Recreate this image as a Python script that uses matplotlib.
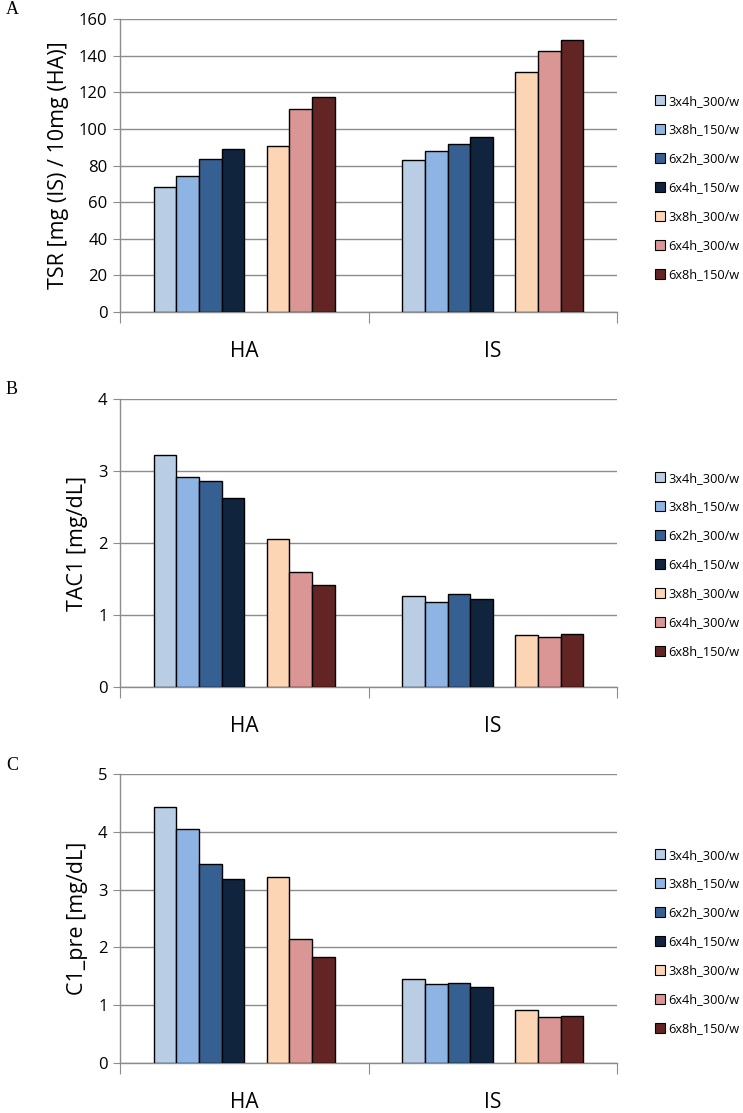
"""Three grouped bar panels (A, B, C) for HA and IS."""

import matplotlib.pyplot as plt
from matplotlib.patches import Patch

categories = ["HA", "IS"]
series = ["3x4h_300/w", "3x8h_150/w", "6x2h_300/w", "6x4h_150/w",
          "3x8h_300/w", "6x4h_300/w", "6x8h_150/w"]
colors = ["#B9CDE5", "#8EB4E3", "#376092", "#10243E",
          "#FCD5B5", "#D99694", "#632523"]

# values per series: [HA, IS]
tsr = [[68, 83], [74.5, 88], [83.7, 91.7], [88.8, 95.3],
       [90.4, 131.2], [111, 142.5], [117.6, 148.3]]
tac1 = [[3.22, 1.27], [2.91, 1.18], [2.86, 1.29], [2.62, 1.22],
        [2.05, 0.72], [1.60, 0.70], [1.41, 0.74]]
c1_pre = [[4.43, 1.45], [4.05, 1.36], [3.44, 1.39], [3.19, 1.32],
          [3.21, 0.91], [2.14, 0.79], [1.84, 0.81]]

panels = [
    ("A", tsr, "TSR [mg (IS) / 10mg (HA)]", 160, 20),
    ("B", tac1, "TAC1 [mg/dL]", 4, 1),
    ("C", c1_pre, "C1_pre [mg/dL]", 5, 1),
]

W, H = 743, 1113
# axes boxes in pixels: (top, bottom)
boxes = [(19, 312), (399, 687), (774, 1063)]
legend_y = [188, 565, 942]
ax_left, ax_right = 120, 617

GRID = "#8C8C8C"
FONT = ["Open Sans", "DejaVu Sans"]

fig = plt.figure(figsize=(W / 100, H / 100), dpi=100)

slot = 1 / 11
for (letter, data, ylabel, ymax, step), (top, bottom), ly in zip(panels, boxes, legend_y):
    ax = fig.add_axes([ax_left / W, 1 - bottom / H,
                       (ax_right - ax_left) / W, (bottom - top) / H])
    for i, (vals, col) in enumerate(zip(data, colors)):
        k = i if i < 4 else i + 1
        xs = [c + 0.5 - 4 * slot + (k + 0.5) * slot for c in range(len(categories))]
        ax.bar(xs, vals, width=slot, color=col, edgecolor="black",
               linewidth=1.0, zorder=3)

    ax.set_xlim(0, 2)
    ax.set_ylim(0, ymax)
    ax.set_yticks(range(0, ymax + 1, step))
    ax.yaxis.grid(True, color=GRID, linewidth=1.0, zorder=0)
    for s in ["top", "right"]:
        ax.spines[s].set_visible(False)
    for s in ["left", "bottom"]:
        ax.spines[s].set_color(GRID)
        ax.spines[s].set_linewidth(1.0)
    ax.tick_params(axis="y", length=5, color=GRID, labelsize=12, pad=4)
    for lab in ax.get_yticklabels():
        lab.set_family(FONT)

    ax.set_xticks([0, 1, 2])
    ax.set_xticklabels([])
    ax.tick_params(axis="x", which="major", length=8, color=GRID)
    ax.set_xticks([0.5, 1.5], minor=True)
    ax.set_xticklabels(categories, minor=True, fontsize=15, family=FONT)
    ax.tick_params(axis="x", which="minor", length=0, pad=21)

    ax.set_ylabel(ylabel, fontsize=15.5, family=FONT, labelpad=7)

    fig.text(6 / W, 1 - (top - 9) / H, letter, fontsize=13,
             family="Liberation Serif", va="center", ha="left")

    handles = [Patch(facecolor=c, edgecolor="black", linewidth=0.8) for c in colors]
    fig.legend(handles, series, loc="center left",
               bbox_to_anchor=(650 / W, 1 - ly / H), frameon=False,
               prop={"family": FONT, "size": 9.2}, handlelength=0.75,
               handleheight=0.75, handletextpad=0.3, labelspacing=1.25,
               borderaxespad=0)

fig.savefig("out.png", dpi=100, facecolor="white")
